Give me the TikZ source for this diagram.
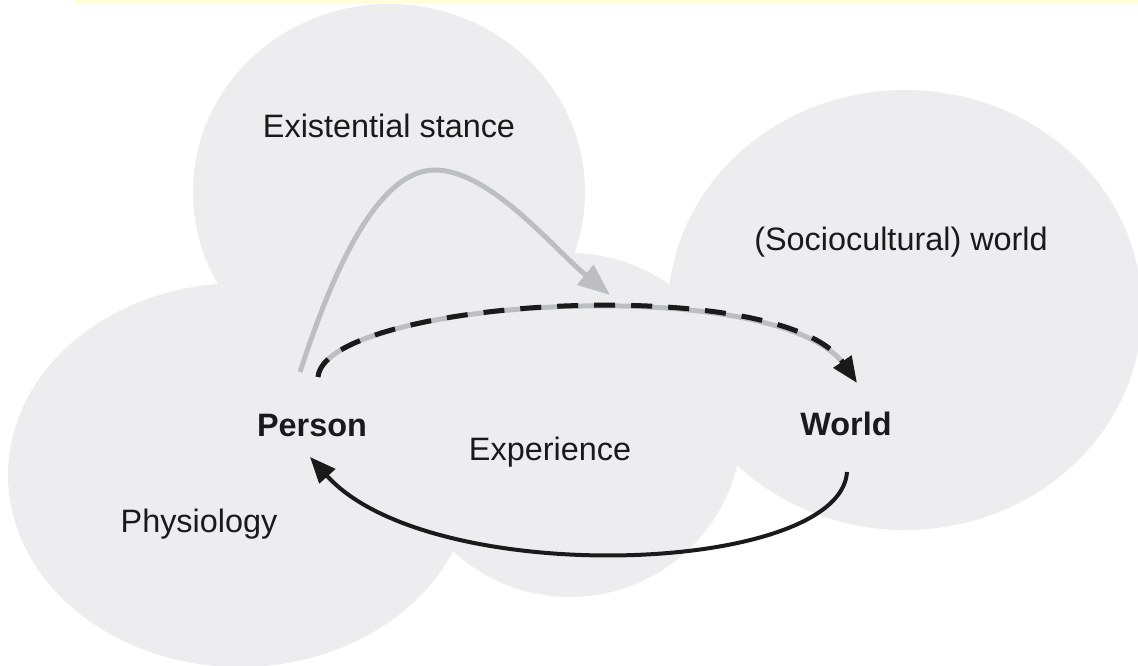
\documentclass[tikz,border=0pt]{standalone}
\usepackage{fontspec}
\setmainfont{Liberation Sans}
\usetikzlibrary{arrows.meta}
\definecolor{blobfill}{HTML}{EDEDEF}
\definecolor{stancegray}{HTML}{BDBEC1}
\definecolor{inkblack}{HTML}{1A1A1A}
\definecolor{bandyellow}{HTML}{FFFFD9}

\begin{document}
\begin{tikzpicture}[
  x=0.5pt,
  y=-0.5pt,
  line join=round,
  blob/.style={fill=blobfill,draw=none},
  label text/.style={font=\fontsize{16.2pt}{19pt}\selectfont,text=inkblack,anchor=base,inner sep=0pt},
  key text/.style={label text,font=\fontsize{16.2pt}{19pt}\selectfont\bfseries},
  stancelink/.style={draw=stancegray,line width=2.5pt,-{Triangle[length=16pt,width=12.5pt]}},
  dashbase/.style={draw=stancegray,line width=2.5pt,shorten >=10pt},
  dashlink/.style={draw=inkblack,line width=2.5pt,dash pattern=on 10.5pt off 8pt,-{Triangle[length=13pt,width=10.5pt]}},
  backlink/.style={draw=inkblack,line width=2pt,-{Triangle[length=13pt,width=10.5pt]}}
]
  \useasboundingbox (0,0) rectangle (1138,665);

  % Thin band along the top edge.
  \fill[bandyellow] (75,0) rectangle (1138,4);

  % The four overlapping domains, all in the same flat grey.
  \path[blob] (389,192) ellipse [x radius=196, y radius=188];
  \path[blob] (240,475) ellipse [x radius=232, y radius=192];
  \path[blob] (570,425) ellipse [x radius=172, y radius=172];
  \path[blob] (905,310) ellipse [x radius=237, y radius=220];

  % Labels.
  \node[label text] (stance) at (389,137) {Existential stance};
  \node[label text] (social) at (901,250) {(Sociocultural) world};
  \node[key text] (person) at (312,436) {Person};
  \node[key text] (world) at (846,435) {World};
  \node[label text] (experience) at (550,460) {Experience};
  \node[label text] (physiology) at (199,532) {Physiology};

  % Connector ends near the two key labels.
  \coordinate (stance-out) at (300,372);
  \coordinate (stance-in) at (610,295);
  \coordinate (person-out) at (318,377);
  \coordinate (person-in) at (310,457);
  \coordinate (world-in) at (857,383);
  \coordinate (world-out) at (847,472);

  % Grey arc from the stance onto the experience loop.
  \draw[stancelink] (stance-out) .. controls (330,280) and (375,170) .. (435,170)
    .. controls (490,170) and (555,250) .. (stance-in);

  % Person to world: grey line with black dashes over it.
  \draw[dashbase] (person-out) .. controls (325,300) and (780,270) .. (world-in);
  \draw[dashlink] (person-out) .. controls (325,300) and (780,270) .. (world-in);

  % World back to person.
  \draw[backlink] (world-out) .. controls (840,575) and (430,590) .. (person-in);
\end{tikzpicture}
\end{document}
